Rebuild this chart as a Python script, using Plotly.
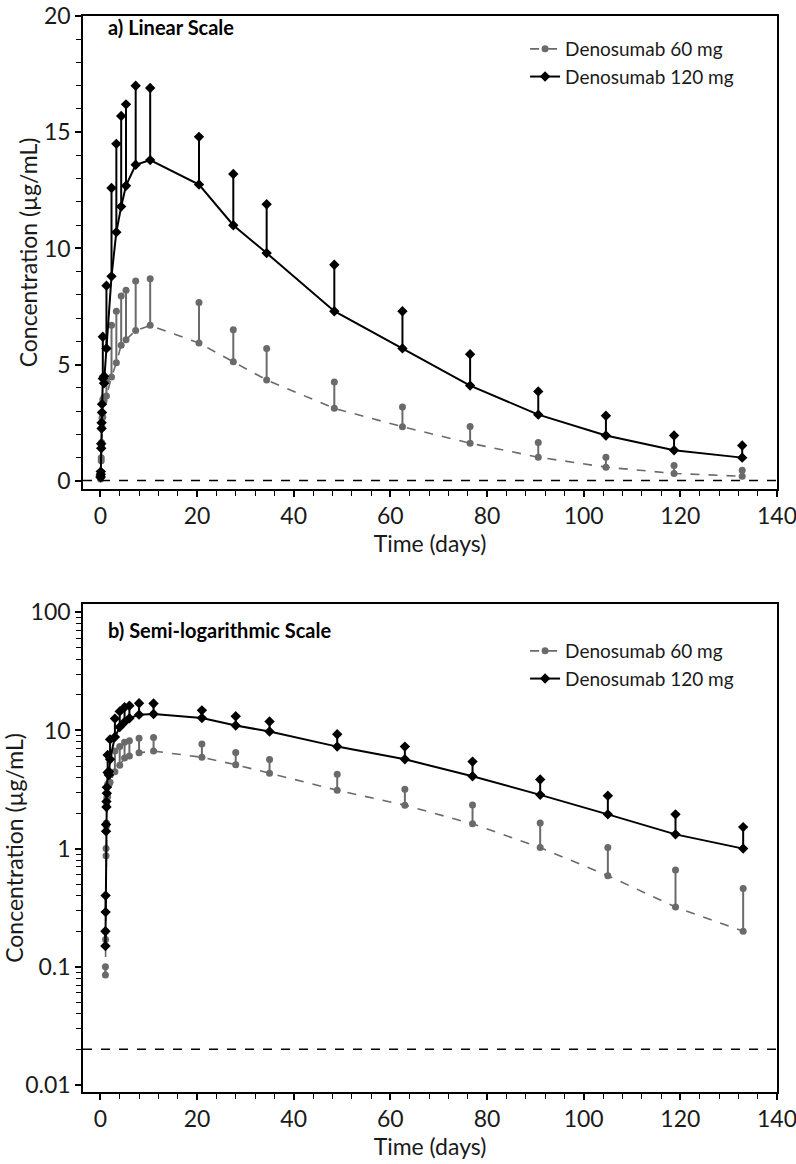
import plotly.graph_objects as go

# time points (days) - panel a uses time since dose, panel b nominal study day
days_lin = [0.04, 0.08, 0.17, 0.25, 0.33, 0.5, 0.75, 1.25, 2.3, 3.3, 4.3, 5.3, 7.3, 10.3,
            20.4, 27.5, 34.4, 48.4, 62.5, 76.5, 90.6, 104.6, 118.7, 132.8]
days_log = [1.04, 1.08, 1.17, 1.25, 1.33, 1.5, 1.75, 2.0, 3, 4, 5, 6, 8, 11,
            21, 28, 35, 49, 63, 77, 91, 105, 119, 133]

# mean and mean + SD (µg/mL)
mean_60 = [0.085, 0.17, 0.87, 1.55, 2.3, 2.75, 3.45, 3.65, 4.47, 5.08, 5.84, 6.07, 6.47, 6.69,
           5.93, 5.13, 4.34, 3.12, 2.33, 1.62, 1.02, 0.59, 0.32, 0.2]
upper_60 = [0.1, 0.2, 1.0, 1.65, 2.7, 3.5, 3.6, 4.3, 6.7, 7.3, 7.95, 8.2, 8.6, 8.7,
            7.67, 6.5, 5.69, 4.25, 3.18, 2.34, 1.65, 1.02, 0.66, 0.46]
mean_120 = [0.15, 0.29, 1.4, 2.25, 2.94, 4.4, 4.2, 5.7, 8.8, 10.7, 11.8, 12.7, 13.6, 13.8,
            12.75, 11.0, 9.8, 7.3, 5.7, 4.1, 2.85, 1.95, 1.32, 1.0]
upper_120 = [0.2, 0.4, 1.6, 2.5, 3.3, 6.2, 4.5, 8.4, 12.6, 14.5, 15.7, 16.2, 17.0, 16.9,
             14.8, 13.2, 11.9, 9.3, 7.3, 5.45, 3.85, 2.8, 1.95, 1.52]

lloq = 0.02
labels = ["Denosumab 60 mg", "Denosumab 120 mg"]
panel_titles = ["a) Linear Scale", "b) Semi-logarithmic Scale"]

FONT = "Lato"
GREY = "#6a6a6a"
TXT = "#1a1a1a"

fig = go.Figure()

series = [
    (mean_60, upper_60, labels[0], GREY, "circle", 7, "dash", 1.6),
    (mean_120, upper_120, labels[1], "black", "diamond", 8, "solid", 2),
]

for xs, xa, ya, leg in [(days_lin, "x", "y", "legend"), (days_log, "x2", "y2", "legend2")]:
    for mean, upper, name, col, sym, size, dash, lw in series:
        sd = [u - m for u, m in zip(upper, mean)]
        fig.add_trace(go.Scatter(
            x=xs, y=mean, mode="lines+markers", name=name,
            xaxis=xa, yaxis=ya, legend=leg,
            line=dict(color=col, width=lw, dash=dash),
            marker=dict(symbol=sym, size=size, color=col),
            error_y=dict(type="data", symmetric=False, array=sd,
                         arrayminus=[0] * len(sd), width=0, thickness=2, color=col),
        ))
        fig.add_trace(go.Scatter(
            x=xs, y=upper, mode="markers", showlegend=False,
            xaxis=xa, yaxis=ya, hoverinfo="skip",
            marker=dict(symbol=sym, size=size, color=col),
        ))

# lower limit of quantification
for xa, ya in [("x", "y"), ("x2", "y2")]:
    fig.add_shape(type="line", xref=xa + " domain", yref=ya, x0=0, x1=1, y0=lloq, y1=lloq,
                  line=dict(color="black", width=1.5, dash="dash"))

axis_common = dict(
    showline=True, linecolor="black", linewidth=1.5, mirror=True,
    ticks="outside", ticklen=6, tickwidth=1.5, tickcolor="black",
    showgrid=False, zeroline=False, automargin=False, ticklabeloverflow="allow",
    tickfont=dict(family=FONT, size=23, color=TXT),
)
xcommon = dict(axis_common, range=[-3.6, 140], tick0=0, dtick=20,
               minor=dict(ticks="outside", ticklen=5, tickwidth=1.2, tickcolor="black", dtick=4),
               title=dict(text="Time (days)", font=dict(family=FONT, size=23, color=TXT),
                          standoff=0))
ytitle = dict(text="Concentration (µg/mL)", font=dict(family=FONT, size=23, color=TXT),
              standoff=0)

log_minor = [m * 10 ** e for e in range(-2, 2) for m in range(2, 10)]

fig.update_layout(
    width=796, height=1164,
    paper_bgcolor="white", plot_bgcolor="white",
    margin=dict(l=83, r=19, t=16, b=72),
    font=dict(family=FONT, color=TXT),
    xaxis=dict(xcommon, domain=[0, 1], anchor="y"),
    yaxis=dict(axis_common, domain=[0.5604, 1], anchor="x", range=[-0.35, 20.0],
               tick0=0, dtick=5,
               minor=dict(ticks="outside", ticklen=5, tickwidth=1.2, tickcolor="black", dtick=1),
               title=ytitle),
    xaxis2=dict(xcommon, domain=[0, 1], anchor="y2"),
    yaxis2=dict(axis_common, type="log", domain=[0, 0.4535], anchor="x2",
                range=[-2.06, 2.07],
                tickvals=[0.01, 0.1, 1, 10, 100], ticktext=["0.01", "0.1", "1", "10", "100"],
                minor=dict(ticks="outside", ticklen=5, tickwidth=1.2, tickcolor="black",
                           tickvals=log_minor),
                title=ytitle),
    legend=dict(x=0.637, y=0.987, xanchor="left", yanchor="top",
                font=dict(family=FONT, size=19, color=TXT), bgcolor="rgba(0,0,0,0)",
                tracegroupgap=0, itemwidth=30),
    legend2=dict(x=0.637, y=0.4275, xanchor="left", yanchor="top",
                 font=dict(family=FONT, size=19, color=TXT), bgcolor="rgba(0,0,0,0)",
                 tracegroupgap=0, itemwidth=30),
    showlegend=True,
)

for xa, ya, title, shift in zip(["x", "x2"], ["y", "y2"], panel_titles, [-11, -26]):
    fig.add_annotation(text="<b>" + title + "</b>", xref=xa + " domain", yref=ya + " domain",
                       x=0.033, y=1, xanchor="left", yanchor="middle", yshift=shift,
                       showarrow=False, font=dict(family=FONT, size=20, color="black"))

# drop the default page margin so the figure sits at the window's corner
fig.write_html("out.html", config={"displayModeBar": False},
               post_script="document.body.style.margin='0px';")
